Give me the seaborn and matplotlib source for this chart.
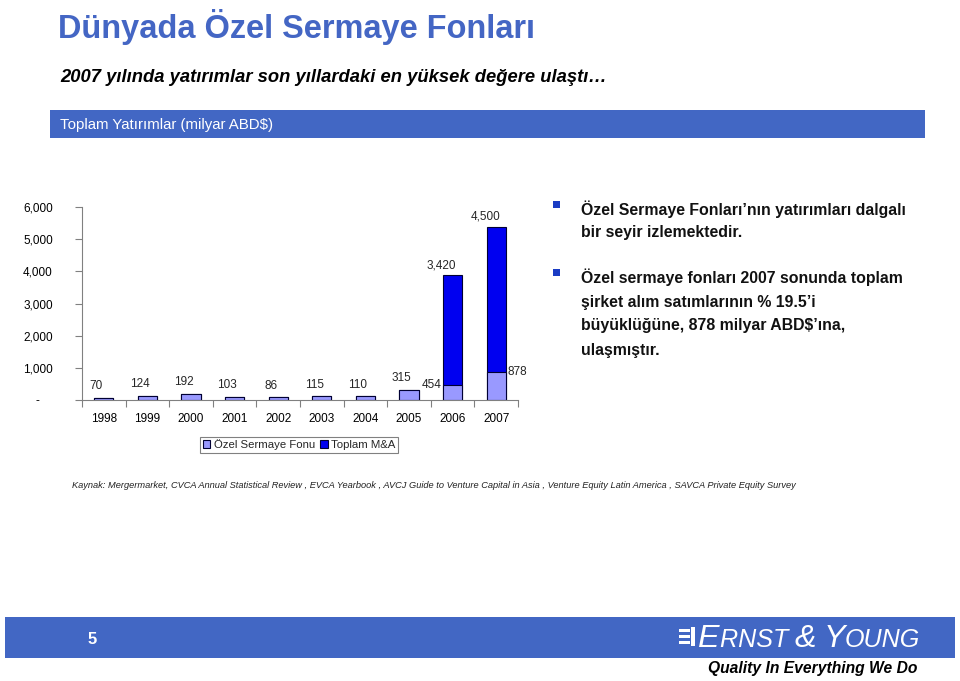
import numpy as np
import pandas as pd
import matplotlib
matplotlib.use("Agg")
import matplotlib.pyplot as plt
import seaborn as sns
from matplotlib.patches import Patch, Rectangle
from matplotlib.ticker import FuncFormatter
from matplotlib import font_manager

# ---------------- data ----------------
years = ["1998", "1999", "2000", "2001", "2002", "2003", "2004", "2005", "2006", "2007"]
ozel_fon = [70, 124, 192, 103, 86, 115, 110, 315, 454, 878]
toplam_ma = [0, 0, 0, 0, 0, 0, 0, 0, 3420, 4500]
y_ticks = [0, 1000, 2000, 3000, 4000, 5000, 6000]
series_names = ["Özel Sermaye Fonu", "Toplam M&A"]

title = "Dünyada Özel Sermaye Fonları"
subtitle = "2007 yılında yatırımlar son yıllardaki en yüksek değere ulaştı…"
banner = "Toplam Yatırımlar (milyar ABD$)"
bullets = [
    ["Özel Sermaye Fonları’nın yatırımları dalgalı", "bir seyir izlemektedir."],
    ["Özel sermaye fonları 2007 sonunda toplam", "şirket alım satımlarının % 19.5’i",
     "büyüklüğüne, 878 milyar ABD$’ına,", "ulaşmıştır."],
]
source = ("Kaynak: Mergermarket, CVCA Annual Statistical Review , EVCA Yearbook , AVCJ Guide to Venture "
          "Capital in Asia , Venture Equity Latin America , SAVCA Private Equity Survey")

# ---------------- style ----------------
sns.set_theme(style="white")
plt.rcParams["font.family"] = ["Liberation Sans", "DejaVu Sans"]


def has_font(name):
    try:
        font_manager.findfont(font_manager.FontProperties(family=name), fallback_to_default=False)
        return True
    except Exception:
        return False


narrow = ["Liberation Sans Narrow", "Liberation Sans", "DejaVu Sans"] if has_font("Liberation Sans Narrow") \
    else ["Liberation Sans", "DejaVu Sans"]

W, H = 960, 681
fig = plt.figure(figsize=(W / 100, H / 100), dpi=100)
renderer = fig.canvas.get_renderer()

BLUE_BAND = "#4267c4"
LIGHT = "#9999ff"
DARK = "#0000f0"
EDGE = "#000033"


def fx(px):
    return px / W


def fy(py):
    return 1 - py / H


def fit_text(x, y, s, width_px, size0=12, **kw):
    t = fig.text(fx(x), fy(y), s, fontsize=size0, va="center", ha="left", **kw)
    w = t.get_window_extent(renderer).width
    t.set_fontsize(size0 * width_px / w)
    return t


# ---------------- header ----------------
fit_text(58, 27, title, 477, size0=28, family=narrow, weight="bold", color="#4466c4")
fit_text(60, 77, subtitle, 545, size0=14, family=narrow, weight="bold", style="italic", color="black")
fig.add_artist(Rectangle((fx(50), fy(138)), fx(925) - fx(50), (138 - 110) / H,
                         transform=fig.transFigure, color=BLUE_BAND, lw=0))
fit_text(60, 125, banner, 215, size0=12, family=narrow, color="white")

# ---------------- chart ----------------
ax = fig.add_axes([fx(82), fy(400), (518 - 82) / W, (400 - 207) / H])
df = pd.DataFrame({"Yıl": years, "Özel": ozel_fon, "MA": toplam_ma})
df["Toplam"] = df["Özel"] + df["MA"]

sns.barplot(data=df, x="Yıl", y="Toplam", color=DARK, saturation=1, width=0.44,
            edgecolor=EDGE, linewidth=0.8, errorbar=None, ax=ax)
sns.barplot(data=df, x="Yıl", y="Özel", color=LIGHT, saturation=1, width=0.44,
            edgecolor=EDGE, linewidth=0.8, errorbar=None, ax=ax)

ax.set_xlim(-0.5, len(years) - 0.5)
ax.set_ylim(y_ticks[0], y_ticks[-1])
ax.set_xlabel("")
ax.set_ylabel("")
ax.set_yticks(y_ticks)
ax.yaxis.set_major_formatter(FuncFormatter(lambda v, p: "-    " if v == 0 else f"{int(v):,}"))
ax.set_xticks(range(len(years)))
ax.set_xticks(np.arange(-0.5, len(years), 1.0), minor=True)
ax.tick_params(axis="y", left=True, length=5, width=0.8, color="#808080", pad=16,
               labelsize=8.5, labelcolor="black")
ax.tick_params(axis="x", which="major", bottom=True, length=0, pad=9, labelsize=8.5, labelcolor="black")
ax.tick_params(axis="x", which="minor", bottom=True, length=5, width=0.8, color="#808080")
for s in ["top", "right"]:
    ax.spines[s].set_visible(False)
for s in ["left", "bottom"]:
    ax.spines[s].set_color("#808080")
    ax.spines[s].set_linewidth(0.8)
ax.grid(False)

for i, (o, m) in enumerate(zip(ozel_fon, toplam_ma)):
    if m > 0:
        ax.annotate(f"{m:,}", (i - 0.25, o + m), xytext=(0, 3), textcoords="offset points",
                    ha="center", va="bottom", fontsize=8.5)
        if i == len(years) - 1:
            ax.annotate(f"{o:,}", (i + 0.22, o), xytext=(1, 0), textcoords="offset points",
                        ha="left", va="center", fontsize=8.5)
        else:
            ax.annotate(f"{o:,}", (i - 0.22, o), xytext=(-1, 0), textcoords="offset points",
                        ha="right", va="center", fontsize=8.5)
    else:
        ax.annotate(f"{o:,}", (i - 0.17, o), xytext=(0, 4), textcoords="offset points",
                    ha="center", va="bottom", fontsize=8.5)

handles = [Patch(facecolor=LIGHT, edgecolor=EDGE, lw=0.8, label=series_names[0]),
           Patch(facecolor=DARK, edgecolor=EDGE, lw=0.8, label=series_names[1])]
leg = fig.legend(handles=handles, loc="center", bbox_to_anchor=(fx(299), fy(445)), ncol=2,
                 frameon=True, fancybox=False, edgecolor="#808080", framealpha=1, fontsize=8.2,
                 handlelength=0.7, handleheight=0.7, handletextpad=0.3, columnspacing=0.4,
                 borderpad=0.25, borderaxespad=0)
leg.get_frame().set_linewidth(0.8)

# ---------------- right text ----------------
line_y = [[209, 233], [277, 302, 326, 350]]
bullet_y = [204, 273]
ref = fit_text(581, line_y[0][0], bullets[0][0], 325, size0=11, weight="bold", color="#111111")
size = ref.get_fontsize()
for bi, lines in enumerate(bullets):
    fig.add_artist(Rectangle((fx(553), fy(bullet_y[bi] + 3.5)), 7 / W, 7 / H,
                             transform=fig.transFigure, color="#1a3cc4", lw=0))
    for li, line in enumerate(lines):
        if bi == 0 and li == 0:
            continue
        fig.text(fx(581), fy(line_y[bi][li]), line, fontsize=size, weight="bold",
                 color="#111111", va="center", ha="left")

# ---------------- source ----------------
fit_text(72, 486, source, 728, size0=7, style="italic", color="#222222")

# ---------------- footer ----------------
fig.add_artist(Rectangle((fx(5), fy(658)), fx(955) - fx(5), (658 - 617) / H,
                         transform=fig.transFigure, color=BLUE_BAND, lw=0))
fig.text(fx(92), fy(639), "5", fontsize=12, weight="bold", color="white", va="center", ha="center")

# logo icon
for yy in [629, 635, 641]:
    fig.add_artist(Rectangle((fx(679), fy(yy + 3)), 11 / W, 3 / H, transform=fig.transFigure,
                             color="white", lw=0))
fig.add_artist(Rectangle((fx(691), fy(646)), 3.5 / W, 19 / H, transform=fig.transFigure,
                         color="white", lw=0))

# small caps "ERNST & YOUNG"
pieces = [("E", 1.0), ("RNST ", 0.78), ("&", 1.0), (" ", 0.78), ("Y", 1.0), ("OUNG", 0.78)]
base = 20.0
txts = []
x0 = 698
for s, sc in pieces:
    t = fig.text(fx(x0), fy(647), s, fontsize=base * sc, family=narrow, style="italic",
                 color="white", va="baseline", ha="left")
    txts.append((t, sc))
total = sum(t.get_window_extent(renderer).width for t, _ in txts)
k = (920 - 698) / total
cur = x0
for t, sc in txts:
    t.set_fontsize(base * sc * k)
    t.set_x(fx(cur))
    cur += t.get_window_extent(renderer).width

fit_text(708, 669, "Quality In Everything We Do", 209, size0=12, family=narrow, weight="bold",
         style="italic", color="black")

fig.savefig("out.png", dpi=100)
